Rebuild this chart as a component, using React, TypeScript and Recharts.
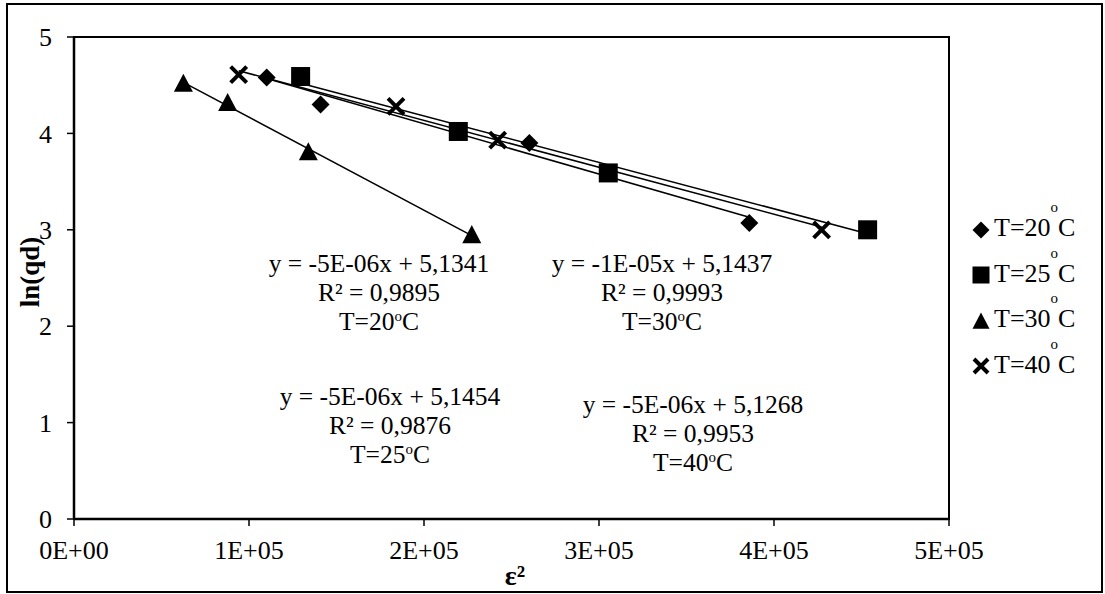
import { Legend, ReferenceArea, ReferenceLine, Scatter, ScatterChart, XAxis, YAxis } from "recharts";

// ln(qd) vs eps^2 scatter with linear trendlines, four temperatures

const FONT = '"Liberation Serif", "Times New Roman", serif';

const xTicks = [0, 100000, 200000, 300000, 400000, 500000];
const xTickLabels = ["0E+00", "1E+05", "2E+05", "3E+05", "4E+05", "5E+05"];
const yTicks = [0, 1, 2, 3, 4, 5];

const seriesNames = ["T=20", "T=25", "T=30", "T=40"];

const t20X = [110100, 140900, 260200, 385900];
const t20Y = [4.58, 4.3, 3.9, 3.07];
const t25X = [129500, 219600, 305300, 453500];
const t25Y = [4.59, 4.02, 3.59, 3.0];
const t30X = [62500, 87800, 133900, 227300];
const t30Y = [4.52, 4.32, 3.81, 2.95];
const t40X = [94100, 184000, 242100, 427200];
const t40Y = [4.61, 4.28, 3.93, 3.0];

// trendline end points
const trend20 = { x: [110100, 385900], y: [4.57, 3.13] };
const trend25 = { x: [129500, 453500], y: [4.52, 2.96] };
const trend30 = { x: [62500, 227300], y: [4.53, 2.94] };
const trend40 = { x: [94100, 427200], y: [4.65, 3.03] };

const equations = [
  { eq: "y = -5E-06x + 5,1341", r2: "R² = 0,9895", t: "T=20", cx: 379, row1: 263 },
  { eq: "y = -1E-05x + 5,1437", r2: "R² = 0,9993", t: "T=30", cx: 662, row1: 263 },
  { eq: "y = -5E-06x + 5,1454", r2: "R² = 0,9876", t: "T=25", cx: 390, row1: 396 },
  { eq: "y = -5E-06x + 5,1268", r2: "R² = 0,9953", t: "T=40", cx: 693, row1: 404 },
];

const toPoints = (xs: number[], ys: number[]) => xs.map((x, i) => ({ x, y: ys[i] }));

type P = { cx?: number; cy?: number };

const Diamond = ({ cx = 0, cy = 0, r = 9 }: P & { r?: number }) => (
  <path d={`M${cx},${cy - r}L${cx + r},${cy}L${cx},${cy + r}L${cx - r},${cy}Z`} fill="#000" />
);
const Square = ({ cx = 0, cy = 0, r = 9.5 }: P & { r?: number }) => (
  <rect x={cx - r} y={cy - r} width={r * 2} height={r * 2} fill="#000" />
);
const Triangle = ({ cx = 0, cy = 0, r = 9.5 }: P & { r?: number }) => (
  <path d={`M${cx},${cy - r}L${cx + r},${cy + r * 0.9}L${cx - r},${cy + r * 0.9}Z`} fill="#000" />
);
const Cross = ({ cx = 0, cy = 0, r = 8 }: P & { r?: number }) => (
  <path
    d={`M${cx - r},${cy - r}L${cx + r},${cy + r}M${cx + r},${cy - r}L${cx - r},${cy + r}`}
    stroke="#000"
    strokeWidth={4}
  />
);

const icons = [Diamond, Square, Triangle, Cross];

function LegendBox() {
  return (
    <div style={{ fontFamily: FONT, fontSize: 26, color: "#000" }}>
      {seriesNames.map((name, i) => {
        const Icon = icons[i];
        return (
          <div key={name} style={{ height: 45.5, display: "flex", alignItems: "center" }}>
            <svg width={22} height={22} style={{ marginRight: 2 }}>
              <Icon cx={11} cy={11} r={i === 3 ? 7 : 8.5} />
            </svg>
            <span style={{ lineHeight: "26px" }}>
              {name}
              <span style={{ fontSize: 15, position: "relative", top: -24 }}>o</span>C
            </span>
          </div>
        );
      })}
    </div>
  );
}

export default function App() {
  const lh = 29;
  return (
    <div
      style={{
        position: "absolute",
        left: 0,
        top: 0,
        width: 1105,
        height: 594,
        background: "#fff",
        fontFamily: FONT,
      }}
    >
      <div
        style={{
          position: "absolute",
          left: 6,
          top: 3,
          width: 1097,
          height: 590,
          border: "2px solid #000",
          boxSizing: "border-box",
        }}
      />
      <ScatterChart width={1105} height={594} margin={{ top: 37, right: 156, bottom: 0, left: 0 }}>
        <XAxis
          type="number"
          dataKey="x"
          domain={[0, 500000]}
          ticks={xTicks}
          tickFormatter={(v: number) => xTickLabels[xTicks.indexOf(v)]}
          height={75}
          tickSize={7}
          tickMargin={15}
          axisLine={{ stroke: "#000", strokeWidth: 2.5 }}
          tickLine={{ stroke: "#000", strokeWidth: 1.5 }}
          tick={{ fill: "#000", fontSize: 26, fontFamily: FONT }}
        />
        <YAxis
          type="number"
          dataKey="y"
          domain={[0, 5]}
          ticks={yTicks}
          width={74}
          tickSize={7}
          tickMargin={15}
          axisLine={{ stroke: "#000", strokeWidth: 2.5 }}
          tickLine={{ stroke: "#000", strokeWidth: 1.5 }}
          tick={{ fill: "#000", fontSize: 26, fontFamily: FONT }}
        />
        <ReferenceArea x1={0} x2={500000} y1={0} y2={5} fill="none" stroke="#000" strokeWidth={2} />
        {[trend20, trend25, trend30, trend40].map((t, i) => (
          <ReferenceLine
            key={i}
            segment={[
              { x: t.x[0], y: t.y[0] },
              { x: t.x[1], y: t.y[1] },
            ]}
            stroke="#000"
            strokeWidth={1.5}
            ifOverflow="visible"
          />
        ))}
        <Scatter name={seriesNames[0]} data={toPoints(t20X, t20Y)} isAnimationActive={false} shape={(p: P) => <Diamond cx={p.cx} cy={p.cy} />} />
        <Scatter name={seriesNames[1]} data={toPoints(t25X, t25Y)} isAnimationActive={false} shape={(p: P) => <Square cx={p.cx} cy={p.cy} />} />
        <Scatter name={seriesNames[2]} data={toPoints(t30X, t30Y)} isAnimationActive={false} shape={(p: P) => <Triangle cx={p.cx} cy={p.cy} />} />
        <Scatter name={seriesNames[3]} data={toPoints(t40X, t40Y)} isAnimationActive={false} shape={(p: P) => <Cross cx={p.cx} cy={p.cy} />} />
        <Legend
          layout="vertical"
          align="center"
          verticalAlign="middle"
          content={() => <LegendBox />}
          wrapperStyle={{ left: 970, top: 207, width: 130 }}
        />
      </ScatterChart>
      <svg
        width={1105}
        height={594}
        style={{ position: "absolute", left: 0, top: 0, pointerEvents: "none" }}
      >
        <text
          x={30}
          y={272}
          transform="rotate(-90 30 272)"
          textAnchor="middle"
          dominantBaseline="central"
          fontFamily={FONT}
          fontSize={27}
          fontWeight="bold"
          fill="#000"
        >
          ln(qd)
        </text>
        <text x={515} y={585} textAnchor="middle" fontFamily={FONT} fontSize={28} fontWeight="bold" fill="#000">
          ε²
        </text>
      </svg>
      {equations.map((e) => (
        <div
          key={e.t}
          style={{
            position: "absolute",
            left: e.cx - 160,
            top: e.row1 - lh / 2,
            width: 320,
            textAlign: "center",
            fontSize: 25.5,
            lineHeight: `${lh}px`,
            color: "#000",
            whiteSpace: "nowrap",
          }}
        >
          <div>{e.eq}</div>
          <div>{e.r2}</div>
          <div>
            {e.t}
            <span style={{ fontSize: 15, position: "relative", top: -9 }}>o</span>C
          </div>
        </div>
      ))}
    </div>
  );
}
